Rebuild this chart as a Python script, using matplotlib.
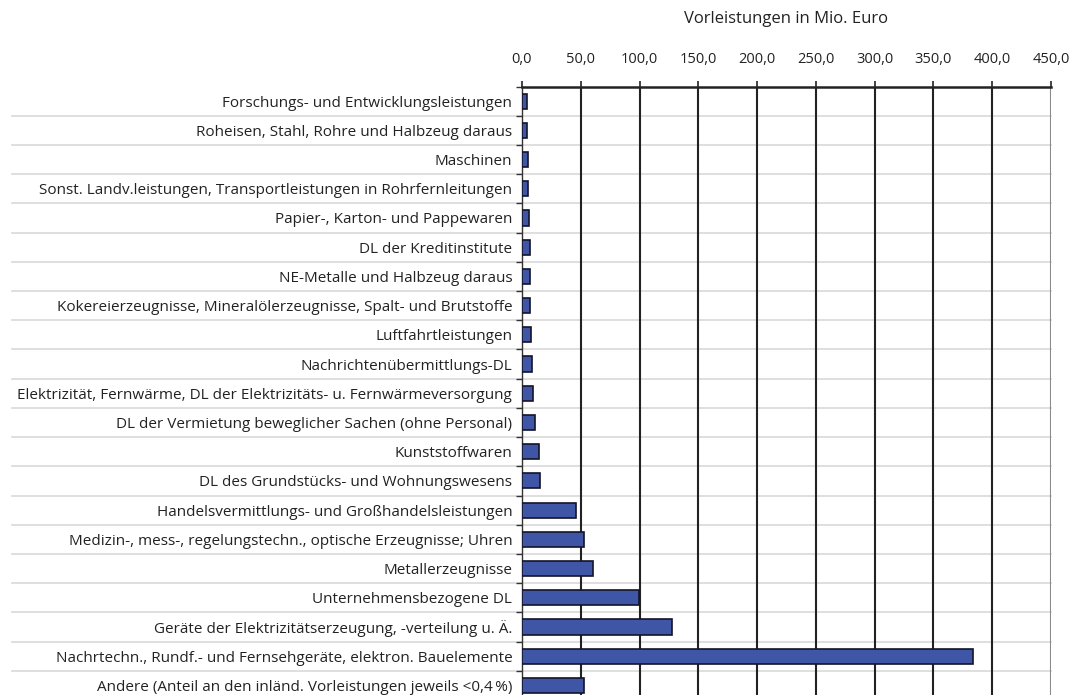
import matplotlib
matplotlib.use("Agg")
import matplotlib.pyplot as plt
from matplotlib.transforms import blended_transform_factory

plt.rcParams['font.family'] = ['Open Sans', 'DejaVu Sans']

categories = [
    "Forschungs- und Entwicklungsleistungen",
    "Roheisen, Stahl, Rohre und Halbzeug daraus",
    "Maschinen",
    "Sonst. Landv.leistungen, Transportleistungen in Rohrfernleitungen",
    "Papier-, Karton- und Pappewaren",
    "DL der Kreditinstitute",
    "NE-Metalle und Halbzeug daraus",
    "Kokereierzeugnisse, Mineralölerzeugnisse, Spalt- und Brutstoffe",
    "Luftfahrtleistungen",
    "Nachrichtenübermittlungs-DL",
    "Elektrizität, Fernwärme, DL der Elektrizitäts- u. Fernwärmeversorgung",
    "DL der Vermietung beweglicher Sachen (ohne Personal)",
    "Kunststoffwaren",
    "DL des Grundstücks- und Wohnungswesens",
    "Handelsvermittlungs- und Großhandelsleistungen",
    "Medizin-, mess-, regelungstechn., optische Erzeugnisse; Uhren",
    "Metallerzeugnisse",
    "Unternehmensbezogene DL",
    "Geräte der Elektrizitätserzeugung, -verteilung u. Ä.",
    "Nachrtechn., Rundf.- und Fernsehgeräte, elektron. Bauelemente",
    "Andere (Anteil an den inländ. Vorleistungen jeweils <0,4\u2009%)",
]
values = [4.5, 4.6, 4.8, 4.9, 5.7, 7.0, 7.1, 7.2, 7.3, 8.2, 9.7, 10.8,
          14.8, 15.0, 45.8, 52.7, 60.3, 99.7, 127.2, 383.4, 52.7]
xticks = [0, 50, 100, 150, 200, 250, 300, 350, 400, 450]
xticklabels = ["0,0", "50,0", "100,0", "150,0", "200,0", "250,0",
               "300,0", "350,0", "400,0", "450,0"]
xlabel = "Vorleistungen in Mio. Euro"

W, H = 1082, 695
fig = plt.figure(figsize=(W / 100, H / 100), dpi=100)
ax_left, ax_right = 522 / W, 1051 / W
ax_top = 1 - 86.5 / H
ax_bottom = 1 - 700 / H
ax = fig.add_axes([ax_left, ax_bottom, ax_right - ax_left, ax_top - ax_bottom])

n = len(categories)
pos = list(range(n))
ax.barh(pos, values, height=0.52, color="#3f56a6", edgecolor="#14142a",
        linewidth=1.2, zorder=3)

ax.set_xlim(0, 450)
ax.set_ylim(n - 0.5, -0.5)

# vertical grid
for xv in xticks[1:]:
    ax.axvline(xv, color="#222222" if xv < 450 else "#8a8a8a",
               linewidth=1.5, zorder=1)

# horizontal row separators extending into label area
tr = blended_transform_factory(fig.transFigure, ax.transData)
for b in range(1, n):
    ax.plot([12 / W, ax_right], [b - 0.5, b - 0.5], transform=tr,
            color="#d9d9d9", linewidth=1.2, clip_on=False, zorder=0.5)

ax.xaxis.tick_top()
ax.xaxis.set_label_position("top")
ax.set_xticks(xticks)
ax.set_xticklabels(xticklabels, fontsize=10.5, color="#222222")
ax.tick_params(axis="x", direction="out", length=4, width=1.2,
               color="#222222", pad=10)
ax.set_xlabel(xlabel, fontsize=12, color="#222222", labelpad=21)

ax.set_yticks(pos)
ax.set_yticklabels(categories, fontsize=11, color="#222222")
ax.set_yticks([p - 0.5 for p in range(n + 1)], minor=True)
ax.tick_params(axis="y", which="major", length=0, pad=7)
ax.tick_params(axis="y", which="minor", length=4, width=1.0,
               color="#333333", direction="out")

for s in ["right", "bottom"]:
    ax.spines[s].set_visible(False)
ax.spines["top"].set_color("#222222")
ax.spines["top"].set_linewidth(1.8)
ax.spines["left"].set_color("#333333")
ax.spines["left"].set_linewidth(1.0)

fig.savefig("out.png", dpi=100)
